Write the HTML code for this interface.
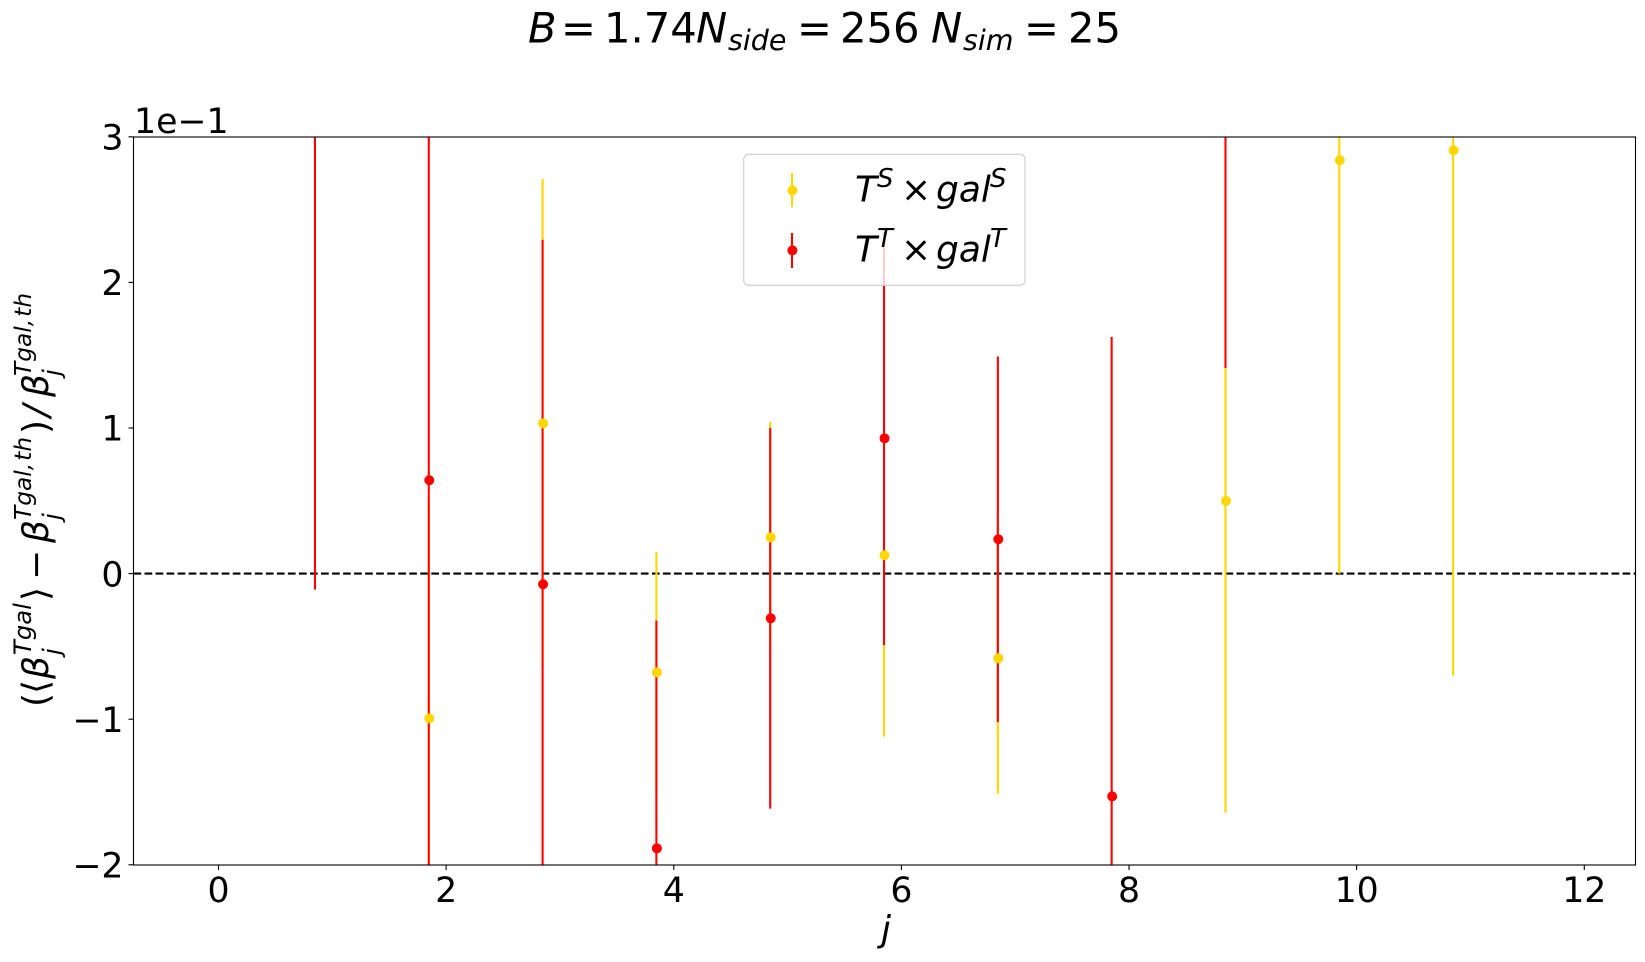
<!DOCTYPE html>
<html lang="en">
<head>
<meta charset="utf-8">
<title>Beta error chart</title>
<style>
html,body{margin:0;padding:0;background:#fff;}
#chart-wrap{position:relative;width:1645px;height:962px;overflow:hidden;}
svg{display:block;}
text{font-family:"DejaVu Sans","Liberation Sans",sans-serif;fill:#000;}
.m{font-style:italic;}
</style>
</head>
<body>
<div id="chart-wrap">
<svg id="chart" xmlns="http://www.w3.org/2000/svg" width="1645" height="962" viewBox="0 0 1645 962">
  <defs>
    <clipPath id="plot-clip"><rect x="133.5" y="136.8" width="1502" height="728"/></clipPath>
  </defs>
  <rect x="0" y="0" width="1645" height="962" fill="#fff"/>

  <g font-size="41.7">
    <text class="m" x="528" y="42.5">B</text>
    <text x="561" y="42.5">=</text>
    <text x="604" y="42.5">1.74</text>
    <text class="m" x="696" y="42.5">N</text>
    <text class="m" x="728" y="50" font-size="28.5">side</text>
    <text x="797" y="42.5">=</text>
    <text x="840" y="42.5">256</text>
    <text class="m" x="931" y="42.5">N</text>
    <text class="m" x="963" y="50" font-size="28.5">sim</text>
    <text x="1024" y="42.5">=</text>
    <text x="1068" y="42.5">25</text>
  </g>

  <g id="grid-layer" clip-path="url(#plot-clip)"></g>
  <g id="bar-layer" clip-path="url(#plot-clip)"></g>
  <g id="point-layer" clip-path="url(#plot-clip)"></g>
  <g id="axis-layer"></g>

  <rect x="133.5" y="137" width="1502" height="728" fill="none" stroke="#000" stroke-width="1.1"/>

  <text x="134" y="133" font-size="34.7">1e−1</text>

  <g>
    <text class="m" x="881" y="941" font-size="36">j</text>
  </g>

  <g transform="translate(0,710) rotate(-90)" font-size="36">
    <text x="3" y="48">(</text>
    <text x="16" y="48">⟨</text>
    <text class="m" x="31" y="48">β</text>
    <text class="m" x="55" y="31" font-size="24.3">Tgal</text>
    <text class="m" x="55" y="60" font-size="24.3">j</text>
    <text x="109" y="48">⟩</text>
    <text x="130" y="48">−</text>
    <text class="m" x="167" y="48">β</text>
    <text class="m" x="190" y="31" font-size="23.3">Tgal,<tspan dx="2">th</tspan></text>
    <text class="m" x="190" y="60" font-size="24.3">j</text>
    <text x="276" y="48">)</text>
    <text class="m" x="293" y="48">/</text>
    <text class="m" x="313" y="48">β</text>
    <text class="m" x="334" y="31" font-size="23.3">Tgal,<tspan dx="2">th</tspan></text>
    <text class="m" x="334" y="60" font-size="24.3">j</text>
  </g>

  <g>
    <rect x="743.7" y="154.3" width="281.3" height="131" rx="5" ry="5" fill="#fff" fill-opacity="0.8" stroke="#ccc" stroke-width="1.1"/>
    <g>
      <line x1="792" y1="173" x2="792" y2="207" stroke="#FFD700" stroke-width="2.08"/>
      <circle cx="792.4" cy="190.4" r="5" fill="#FFD700"/>
      <text class="m" x="855" y="201.7" font-size="36">T</text>
      <text class="m" x="877" y="187" font-size="26">S</text>
      <text x="901" y="201.7" font-size="36">×</text>
      <text class="m" x="936" y="201.7" font-size="36">gal</text>
      <text class="m" x="990" y="187" font-size="26">S</text>
    </g>
    <g>
      <line x1="792" y1="233" x2="792" y2="268" stroke="#f00" stroke-width="2.08"/>
      <circle cx="792.4" cy="250.4" r="5" fill="#f00"/>
      <text class="m" x="855" y="261.7" font-size="36">T</text>
      <text class="m" x="877" y="247" font-size="26">T</text>
      <text x="901" y="261.7" font-size="36">×</text>
      <text class="m" x="936" y="261.7" font-size="36">gal</text>
      <text class="m" x="990" y="247" font-size="26">T</text>
    </g>
  </g>
</svg>
</div>
<script>
// Chart data (y values in units of 1e-1). null = point lies outside the visible range.
const jPositions = [0.85, 1.85, 2.85, 3.85, 4.85, 5.85, 6.85, 7.85, 8.85, 9.85, 10.85];
const scalarValues = [null, -0.994, 1.032, -0.678, 0.249, 0.126, -0.582, null, 0.499, 2.839, 2.907];
const scalarErrors = [null, 1.5, 1.678, 0.826, 0.792, 1.246, 0.93, null, 2.141, 2.84, 3.608];
const tensorValues = [3.6, 0.641, -0.073, -1.887, -0.307, 0.929, 0.236, -1.53, 4.0, null, null];
const tensorErrors = [3.71, 3.0, 2.366, 1.564, 1.307, 1.419, 1.255, 3.156, 2.588, null, null];
const xTicks = [0, 2, 4, 6, 8, 10, 12];
const yTicks = [-2, -1, 0, 1, 2, 3];
const referenceLevel = [0];

const NS = 'http://www.w3.org/2000/svg';
const xMin = -0.747, xMax = 12.45, yMin = -2, yMax = 3;
const plotLeft = 133.5, plotRight = 1635.5, plotTop = 136.8, plotBottom = 864.8;

function xScale(v) { return plotLeft + (v - xMin) / (xMax - xMin) * (plotRight - plotLeft); }
function yScale(v) { return plotBottom - (v - yMin) / (yMax - yMin) * (plotBottom - plotTop); }
function clampY(v) { return Math.min(yMax, Math.max(yMin, v)); }
function make(tag, attrs, parent) {
  const el = document.createElementNS(NS, tag);
  for (const k in attrs) el.setAttribute(k, attrs[k]);
  parent.appendChild(el);
  return el;
}
function fmt(v) { return v < 0 ? '\u2212' + Math.abs(v) : String(v); }

const gridLayer = document.getElementById('grid-layer');
const barLayer = document.getElementById('bar-layer');
const pointLayer = document.getElementById('point-layer');
const axisLayer = document.getElementById('axis-layer');

referenceLevel.forEach(function (level) {
  const line = make('line', {x1: plotLeft, x2: plotRight, y1: yScale(level), y2: yScale(level), stroke: '#000', 'stroke-width': 2.08, 'stroke-dasharray': '7.7 3.33'}, gridLayer);
  
  
});

function drawBars(values, errors, color, label) {
  jPositions.forEach(function (j, i) {
    if (values[i] === null) return;
    const bar = make('line', {x1: xScale(j) - 0.3, x2: xScale(j) - 0.3, y1: yScale(clampY(values[i] - errors[i])), y2: yScale(clampY(values[i] + errors[i])), stroke: color, 'stroke-width': 2.08}, barLayer);
    
    
  });
}
function drawPoints(values, color, label) {
  jPositions.forEach(function (j, i) {
    if (values[i] === null) return;
    const dot = make('circle', {cx: xScale(j) + 0.2, cy: yScale(values[i]), r: 5, fill: color}, pointLayer);
    
    
  });
}
drawBars(scalarValues, scalarErrors, '#FFD700', 'scalar');
drawBars(tensorValues, tensorErrors, '#ff0000', 'tensor');
drawPoints(scalarValues, '#FFD700', 'scalar');
drawPoints(tensorValues, '#ff0000', 'tensor');

xTicks.forEach(function (t) {
  const px = xScale(t);
  const tick = make('line', {x1: px, x2: px, y1: 865, y2: 870, stroke: '#000', 'stroke-width': 1.1}, axisLayer);
  
  
  const lab = make('text', {x: px, y: 902, 'text-anchor': 'middle', 'font-size': 34.7}, axisLayer);
  lab.textContent = fmt(t);
  
  
});
yTicks.forEach(function (t) {
  const py = yScale(t);
  const tick = make('line', {x1: 128.5, x2: 133.5, y1: py, y2: py, stroke: '#000', 'stroke-width': 1.1}, axisLayer);
  
  
  const lab = make('text', {x: 123.5, y: py + 12.7, 'text-anchor': 'end', 'font-size': 34.7}, axisLayer);
  lab.textContent = fmt(t);
  
  
});
</script>
</body>
</html>
